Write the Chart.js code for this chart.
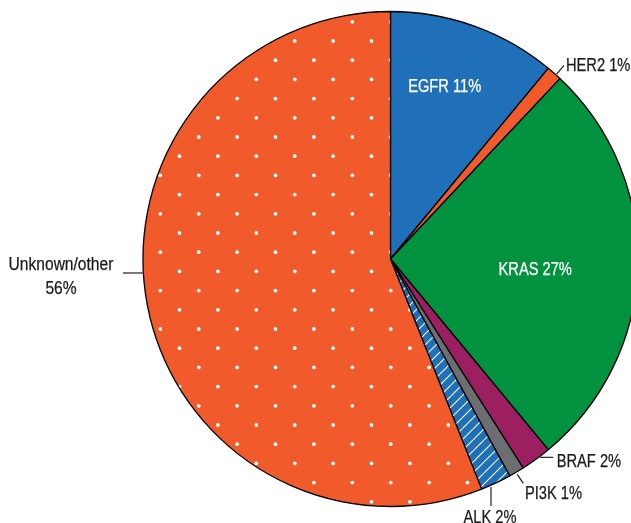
<!DOCTYPE html>
<html><head><meta charset="utf-8">
<script src="https://cdn.jsdelivr.net/npm/chart.js@4"></script>
<style>html,body{margin:0;padding:0;background:#fff;overflow:hidden}#wrap{position:relative;width:631px;height:523px}</style>
</head><body><div id="wrap"><canvas id="c" width="631" height="523"></canvas></div>
<script>
// ---- data ----
const categories = ['EGFR', 'HER2', 'KRAS', 'BRAF', 'PI3K', 'ALK', 'Unknown/other'];
const shares = [11, 1, 27, 2, 1, 2, 56];
const labelLines = [['EGFR 11%'], ['HER2 1%'], ['KRAS 27%'], ['BRAF 2%'], ['PI3K 1%'], ['ALK 2%'], ['Unknown/other', '56%']];

// ---- styles ----
const ORANGE = '#f15a2b', BLUE = '#1f70b8', GREEN = '#00923f', MAROON = '#9c1f61', GRAY = '#6d6e71';
function dotPattern() {
  const s = 192, c = document.createElement('canvas'); c.width = s; c.height = s;
  const g = c.getContext('2d'); g.fillStyle = ORANGE; g.fillRect(0, 0, s, s); g.fillStyle = '#fff';
  for (let i = 0; i < 10; i++) for (let j = 0; j < 10; j++) {
    if ((i + j) % 2 === 1) { g.beginPath(); g.arc(6.7 + 19.2 * i, 2.6 + 19.2 * j, 1.9, 0, Math.PI * 2); g.fill(); }
  }
  return g.createPattern(c, 'repeat');
}
function hatchPattern() {
  const s = 11, c = document.createElement('canvas'); c.width = s; c.height = s;
  const g = c.getContext('2d'); g.fillStyle = BLUE; g.fillRect(0, 0, s, s);
  g.strokeStyle = '#fff'; g.lineWidth = 1.1;
  for (const o of [-s, 0, s]) { g.beginPath(); g.moveTo(o, s); g.lineTo(o + s, 0); g.stroke(); }
  return g.createPattern(c, 'repeat');
}
const fills = [BLUE, ORANGE, GREEN, MAROON, GRAY, hatchPattern(), dotPattern()];
// label layout (offsets from the arc's outer point at mid-angle)
const layout = [
  {inside: true, frac: 0.73, dx: -7, dy: -3},
  {p1: [2.5, 0.7], p2: [9.8, -8], t: [11.8, -8.3], align: 'left'},
  {inside: true, frac: 0.585, dx: 0, dy: 5},
  {p1: [4, -1.9], p2: [17.3, -1.9], t: [20.7, 1.1], align: 'left'},
  {p1: [0.8, 2.3], p2: [6.8, 11.3], t: [8.5, 21], align: 'left'},
  {p1: [-4.9, 4], p2: [-4.9, 23], t: [-5.9, 33.3], align: 'center'},
  {p1: [-4.4, -32.4], p2: [-24.4, -32.4], t: [-86.4, -41.4], align: 'center', sx: 0.865}
];
const FONT_SIZE = 18, FONT = FONT_SIZE + 'px "Liberation Sans", Arial, sans-serif', SX = 0.815;

function narrowText(ctx, txt, x, y, align, sx) {
  ctx.save(); ctx.translate(x, y); ctx.scale(sx, 1); ctx.textAlign = align;
  ctx.lineWidth = 0.25; ctx.strokeStyle = ctx.fillStyle;
  ctx.fillText(txt, 0, 0); ctx.strokeText(txt, 0, 0); ctx.restore();
}

const labelPlugin = {
  id: 'pieLabels',
  afterDatasetsDraw(chart) {
    const ctx = chart.ctx; const meta = chart.getDatasetMeta(0);
    ctx.save(); ctx.font = FONT; ctx.textBaseline = 'alphabetic';
    meta.data.forEach((arc, i) => {
      const p = arc.getProps(['x', 'y', 'startAngle', 'endAngle', 'outerRadius'], true);
      const mid = (p.startAngle + p.endAngle) / 2;
      const L = layout[i];
      const capHalf = FONT_SIZE * 0.716 / 2;
      const sx = L.sx || SX;
      if (L.inside) {
        const x = p.x + Math.cos(mid) * p.outerRadius * L.frac + L.dx;
        const y = p.y + Math.sin(mid) * p.outerRadius * L.frac + L.dy;
        ctx.fillStyle = '#fff';
        narrowText(ctx, labelLines[i][0], x, y + capHalf, 'center', sx);
      } else {
        const ex = p.x + Math.cos(mid) * p.outerRadius, ey = p.y + Math.sin(mid) * p.outerRadius;
        ctx.strokeStyle = '#231f20'; ctx.lineWidth = 1.2;
        ctx.beginPath(); ctx.moveTo(ex + L.p1[0], ey + L.p1[1]); ctx.lineTo(ex + L.p2[0], ey + L.p2[1]); ctx.stroke();
        ctx.fillStyle = '#1a1a1a';
        labelLines[i].forEach((ln, k) => narrowText(ctx, ln, ex + L.t[0], ey + L.t[1] + capHalf + k * 24, L.align, sx));
      }
    });
    ctx.restore();
  }
};

new Chart(document.getElementById('c'), {
  type: 'pie',
  data: { labels: categories, datasets: [{ data: shares, backgroundColor: fills, borderColor: '#000', borderWidth: 1.3, clip: false }] },
  options: {
    responsive: false, animation: false, radius: 247.5,
    layout: { padding: { left: 150, right: 0, top: 0, bottom: 5 } },
    plugins: { legend: { display: false }, tooltip: { enabled: false } }
  },
  plugins: [labelPlugin]
});
</script></body></html>
